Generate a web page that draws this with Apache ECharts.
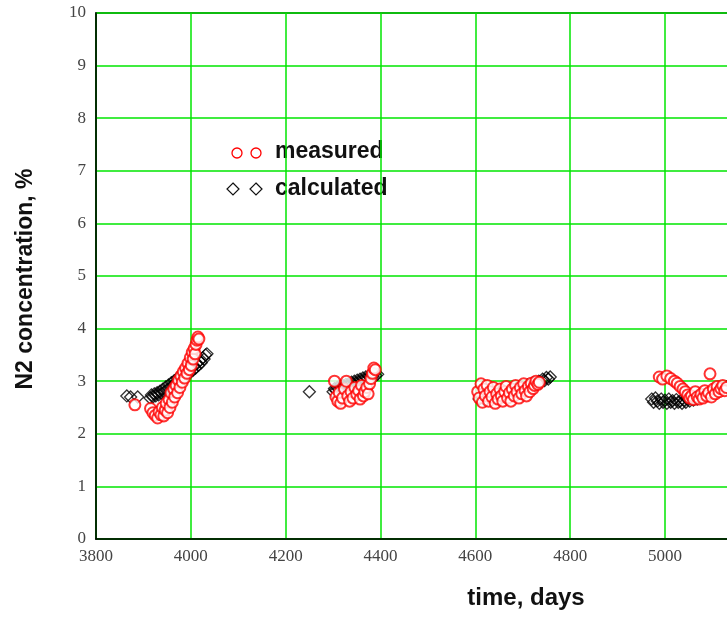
<!DOCTYPE html>
<html>
<head>
<meta charset="utf-8">
<script src="https://cdn.jsdelivr.net/npm/echarts@6/dist/echarts.min.js"></script>
<style>
  html, body { margin: 0; padding: 0; background: #fff; }
  #chart { width: 727px; height: 617px; }
</style>
</head>
<body>
<div id="chart"></div>
<script>
// Axis ticks
const xTicks = [3800, 4000, 4200, 4400, 4600, 4800, 5000, 5200];
const yTicks = [0, 1, 2, 3, 4, 5, 6, 7, 8, 9, 10];

// Measured N2 concentration: [time, days; N2, %], one array per test period
const measuredP1 = [
  [3882,2.55],[3915,2.48],[3920,2.40],[3925,2.35],[3930,2.30],[3933,2.42],[3937,2.36],
  [3940,2.50],[3943,2.34],[3946,2.45],[3948,2.58],[3951,2.40],[3954,2.65],[3956,2.50],
  [3958,2.78],[3961,2.60],[3964,2.85],[3966,2.70],[3969,2.92],[3972,2.78],[3974,3.02],
  [3977,2.88],[3979,3.10],[3982,2.98],[3984,3.18],[3987,3.06],[3989,3.25],[3992,3.15],
  [3994,3.34],[3997,3.22],[3999,3.45],[4001,3.30],[4003,3.55],[4005,3.42],[4007,3.62],
  [4009,3.52],[4011,3.70],[4013,3.78],[4015,3.84],[4017,3.80]
];
const measuredP2 = [
  [4303,3.00],[4306,2.70],[4310,2.62],[4313,2.78],[4316,2.58],[4320,2.68],[4324,2.85],
  [4328,3.00],[4331,2.72],[4335,2.62],[4338,2.80],[4342,2.68],[4346,2.88],[4350,2.75],
  [4354,2.82],[4357,2.66],[4360,2.92],[4364,2.72],[4367,2.80],[4371,2.88],[4374,2.76],
  [4377,2.95],[4380,3.05],[4383,3.15],[4386,3.25],[4389,3.22]
];
const measuredP3 = [
  [4605,2.80],[4608,2.68],[4612,2.95],[4615,2.60],[4618,2.85],[4621,2.72],[4625,2.92],
  [4628,2.62],[4631,2.80],[4635,2.70],[4638,2.88],[4642,2.58],[4645,2.76],[4648,2.66],
  [4652,2.85],[4655,2.72],[4658,2.62],[4662,2.80],[4665,2.90],[4668,2.68],[4672,2.78],
  [4675,2.62],[4678,2.85],[4682,2.72],[4685,2.92],[4688,2.80],[4692,2.68],[4695,2.88],
  [4698,2.76],[4702,2.95],[4705,2.82],[4708,2.72],[4712,2.90],[4715,2.80],[4718,2.96],
  [4722,2.86],[4725,2.92],[4728,3.00],[4732,2.94],[4735,2.98]
];
const measuredP4 = [
  [4988,3.08],[4995,3.04],[5004,3.10],[5012,3.05],[5020,3.00],[5026,2.96],[5032,2.90],
  [5038,2.85],[5043,2.80],[5048,2.74],[5052,2.68],[5056,2.72],[5060,2.65],[5064,2.80],
  [5068,2.70],[5072,2.66],[5076,2.75],[5080,2.68],[5084,2.82],[5088,2.72],[5092,2.78],
  [5095,3.14],[5098,2.70],[5102,2.85],[5106,2.76],[5110,2.90],[5114,2.80],[5118,2.86],
  [5122,2.92],[5126,2.82],[5130,2.88]
];

// Calculated N2 concentration: [time, days; N2, %]
const calculatedP1 = [
  [3865,2.72],[3873,2.70],[3888,2.70],
  [3914,2.68],[3917,2.74],[3920,2.70],[3923,2.76],[3926,2.72],[3929,2.78],[3932,2.74],
  [3935,2.81],[3938,2.77],[3941,2.85],[3944,2.80],[3947,2.89],[3950,2.84],[3953,2.93],
  [3956,2.88],[3959,2.97],[3962,2.92],[3965,3.01],[3968,2.96],[3971,3.05],[3974,3.00],
  [3977,3.09],[3980,3.04],[3983,3.13],[3986,3.08],[3989,3.17],[3992,3.12],[3995,3.21],
  [3998,3.16],[4001,3.25],[4004,3.20],[4007,3.29],[4010,3.25],[4013,3.34],[4016,3.30],
  [4019,3.39],[4022,3.35],[4025,3.44],[4028,3.42],[4031,3.50],[4034,3.52]
];
const calculatedP2 = [
  [4250,2.80],
  [4300,2.80],[4303,2.86],[4306,2.82],[4309,2.88],[4312,2.84],[4315,2.90],[4318,2.86],
  [4321,2.92],[4324,2.88],[4327,2.94],[4330,2.90],[4333,2.96],[4336,2.92],[4339,2.98],
  [4342,2.94],[4345,3.00],[4348,2.96],[4351,3.02],[4354,2.98],[4357,3.04],[4360,3.00],
  [4363,3.06],[4366,3.02],[4369,3.08],[4372,3.04],[4375,3.10],[4378,3.07],[4381,3.12],
  [4384,3.09],[4387,3.14],[4390,3.11],[4394,3.13]
];
const calculatedP3 = [
  [4608,2.66],[4614,2.70],[4620,2.64],[4626,2.72],[4632,2.68],[4638,2.74],[4644,2.70],
  [4650,2.77],[4656,2.73],[4662,2.80],[4668,2.76],[4674,2.83],[4680,2.79],[4686,2.86],
  [4692,2.82],[4698,2.89],[4704,2.86],[4710,2.93],[4716,2.90],[4722,2.97],[4728,2.94],
  [4734,3.00],[4738,2.97],[4742,3.04],[4746,3.01],[4750,3.07],[4754,3.04],[4758,3.08]
];
const calculatedP4 = [
  [4972,2.66],[4976,2.60],[4980,2.68],[4984,2.62],[4988,2.58],[4992,2.66],[4996,2.60],
  [5000,2.64],[5004,2.58],[5008,2.66],[5012,2.60],[5016,2.63],[5020,2.58],[5024,2.65],
  [5028,2.60],[5032,2.62],[5036,2.58],[5040,2.64],[5044,2.60],[5048,2.66],[5052,2.62],
  [5056,2.68],[5060,2.64],[5064,2.70],[5068,2.66],[5072,2.72],[5080,2.72],[5090,2.76],
  [5100,2.80],[5110,2.83],[5120,2.86],[5130,2.89]
];

const measured = [].concat(measuredP1, measuredP2, measuredP3, measuredP4);
const calculated = [].concat(calculatedP1, calculatedP2, calculatedP3, calculatedP4);

const GREEN = '#00e600';
const BOLD = '"Liberation Sans", Arial, sans-serif';
const chart = echarts.init(document.getElementById('chart'), null, { renderer: 'canvas' });

chart.setOption({
  backgroundColor: '#ffffff',
  animation: false,
  grid: {
    left: 96,
    top: 13,
    width: 663.8,
    height: 526,
    outerBoundsMode: 'none',
    containLabel: false,
    show: true,
    borderColor: '#000',
    borderWidth: 1.5,
    backgroundColor: 'transparent'
  },
  xAxis: {
    type: 'value',
    min: xTicks[0],
    max: xTicks[xTicks.length - 1],
    interval: 200,
    axisLine: { show: true, onZero: false, lineStyle: { color: '#000', width: 1.5 } },
    axisTick: { show: false },
    splitLine: { show: true, lineStyle: { color: GREEN, width: 1.5 } },
    axisLabel: {
      color: '#444',
      fontFamily: 'Liberation Serif',
      fontSize: 17,
      margin: 9,
      formatter: v => String(v)
    }
  },
  yAxis: {
    type: 'value',
    min: yTicks[0],
    max: yTicks[yTicks.length - 1],
    interval: 1,
    axisLine: { show: true, onZero: false, lineStyle: { color: '#000', width: 1.5 } },
    axisTick: { show: false },
    splitLine: { show: true, lineStyle: { color: GREEN, width: 1.5 } },
    axisLabel: {
      color: '#444',
      fontFamily: 'Liberation Serif',
      fontSize: 17,
      margin: 10,
      formatter: v => String(v)
    }
  },
  graphic: [
    {
      type: 'text',
      x: 26,
      y: 279,
      rotation: Math.PI / 2,
      style: {
        text: 'N2 concentration, %',
        font: 'bold 23px ' + BOLD,
        fill: '#111',
        align: 'center',
        verticalAlign: 'middle'
      }
    },
    {
      type: 'text',
      x: 526,
      y: 598,
      style: {
        text: 'time, days',
        font: 'bold 24px ' + BOLD,
        fill: '#111',
        align: 'center',
        verticalAlign: 'middle'
      }
    },
    // legend box
    {
      type: 'group',
      z: 100,
      children: [
        { type: 'rect', shape: { x: 215, y: 134, width: 188, height: 72 }, style: { fill: '#fff' } },
        { type: 'circle', shape: { cx: 237, cy: 153, r: 5 }, style: { fill: 'none', stroke: '#ff0000', lineWidth: 1.3 } },
        { type: 'circle', shape: { cx: 256, cy: 153, r: 5 }, style: { fill: 'none', stroke: '#ff0000', lineWidth: 1.3 } },
        { type: 'polygon', shape: { points: [[233, 183], [239, 189], [233, 195], [227, 189]] }, style: { fill: 'none', stroke: '#111', lineWidth: 1.2 } },
        { type: 'polygon', shape: { points: [[256, 183], [262, 189], [256, 195], [250, 189]] }, style: { fill: 'none', stroke: '#111', lineWidth: 1.2 } },
        { type: 'text', x: 275, y: 152, style: { text: 'measured', font: 'bold 23px ' + BOLD, fill: '#111', verticalAlign: 'middle' } },
        { type: 'text', x: 275, y: 189, style: { text: 'calculated', font: 'bold 23px ' + BOLD, fill: '#111', verticalAlign: 'middle' } }
      ]
    }
  ],
  series: [
    {
      name: 'calculated',
      type: 'scatter',
      symbol: 'diamond',
      symbolSize: 12,
      clip: false,
      itemStyle: { color: 'transparent', borderColor: '#000', borderWidth: 1.3 },
      data: calculated
    },
    {
      name: 'measured',
      type: 'scatter',
      symbol: 'emptyCircle',
      symbolSize: 11,
      clip: false,
      itemStyle: { color: '#ff0000', borderColor: '#ff0000', borderWidth: 1.4 },
      data: measured
    }
  ]
});
</script>
</body>
</html>
